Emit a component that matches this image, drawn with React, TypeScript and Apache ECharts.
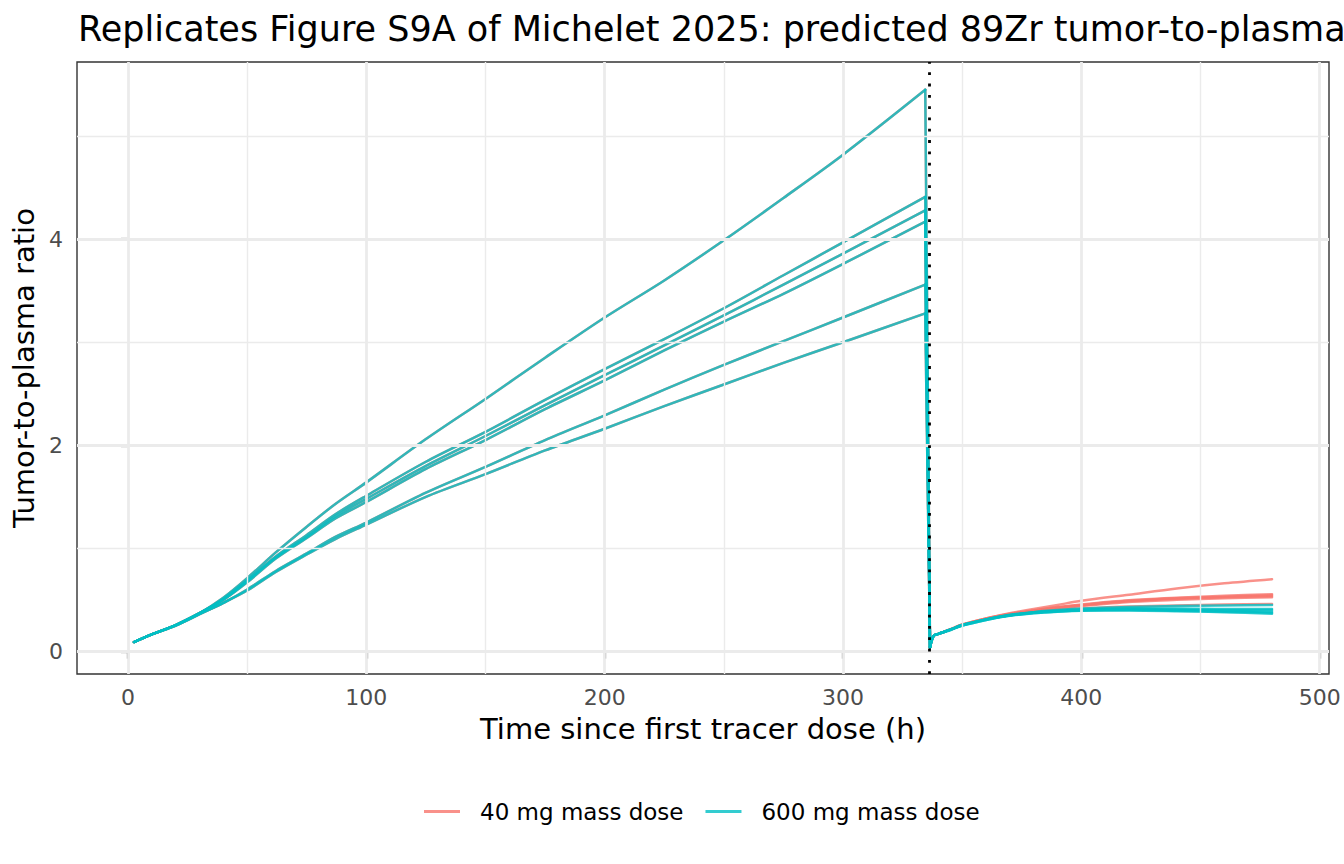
import React, { useEffect, useRef } from "react";
import * as echarts from "echarts";

const TITLE = "Replicates Figure S9A of Michelet 2025: predicted 89Zr tumor-to-plasma ratio";
const X_TITLE = "Time since first tracer dose (h)";
const Y_TITLE = "Tumor-to-plasma ratio";
const SCENARIOS = ["40 mg mass dose", "600 mg mass dose"];
const COLORS = ["rgba(248,118,109,0.8)", "rgba(0,191,196,0.8)"];

const X_MAJOR = [0, 100, 200, 300, 400, 500];
const X_MINOR = [50, 150, 250, 350, 450];
const Y_MAJOR = [0, 2, 4];
const Y_MINOR = [1, 3, 5];
const DOSE_TIME = 336;

// phase 1 (shared by both scenarios)
const P1_X = [2.5, 10, 20, 30, 40, 50, 62, 75, 87, 100, 125, 150, 175, 200, 225, 250, 275, 300, 334.5];
const S1 = [0.09, 0.165, 0.255, 0.37, 0.52, 0.71, 0.96, 1.21, 1.43, 1.64, 2.06, 2.45, 2.85, 3.24, 3.6, 3.99, 4.4, 4.82, 5.45];
const S2 = [0.09, 0.165, 0.255, 0.37, 0.51, 0.69, 0.92, 1.13, 1.33, 1.51, 1.84, 2.13, 2.44, 2.74, 3.03, 3.33, 3.65, 3.97, 4.41];
const S3 = [0.09, 0.165, 0.255, 0.37, 0.5, 0.68, 0.91, 1.11, 1.31, 1.48, 1.8, 2.09, 2.39, 2.68, 2.97, 3.26, 3.56, 3.86, 4.28];
const S4 = [0.09, 0.165, 0.255, 0.37, 0.5, 0.67, 0.9, 1.1, 1.29, 1.45, 1.77, 2.05, 2.35, 2.63, 2.92, 3.2, 3.47, 3.76, 4.17];
const S5 = [0.09, 0.165, 0.25, 0.36, 0.47, 0.6, 0.78, 0.95, 1.11, 1.25, 1.54, 1.79, 2.05, 2.29, 2.54, 2.78, 3.01, 3.24, 3.56];
const S6 = [0.09, 0.165, 0.25, 0.36, 0.47, 0.59, 0.77, 0.94, 1.09, 1.23, 1.5, 1.72, 1.95, 2.16, 2.38, 2.59, 2.8, 3.0, 3.28];

// phase 2 (after second dose)
const P2_X = [336.5, 338, 340, 345, 350, 360, 370, 380, 390, 400, 420, 440, 460, 480];
const R1 = [0.04, 0.15, 0.17, 0.215, 0.26, 0.32, 0.37, 0.41, 0.45, 0.49, 0.55, 0.61, 0.66, 0.7];
const R2 = [0.04, 0.15, 0.17, 0.21, 0.26, 0.32, 0.365, 0.4, 0.43, 0.455, 0.495, 0.52, 0.54, 0.555];
const R3 = [0.04, 0.15, 0.17, 0.21, 0.255, 0.315, 0.36, 0.395, 0.425, 0.45, 0.49, 0.515, 0.53, 0.545];
const R4 = [0.04, 0.15, 0.17, 0.21, 0.255, 0.315, 0.36, 0.39, 0.42, 0.445, 0.485, 0.51, 0.525, 0.535];
const R5 = [0.04, 0.15, 0.17, 0.21, 0.255, 0.315, 0.355, 0.39, 0.415, 0.44, 0.48, 0.5, 0.515, 0.525];
const R6 = [0.04, 0.15, 0.17, 0.21, 0.255, 0.31, 0.35, 0.38, 0.4, 0.415, 0.435, 0.445, 0.455, 0.46];
const T1 = [0.04, 0.15, 0.17, 0.21, 0.255, 0.31, 0.35, 0.38, 0.4, 0.415, 0.43, 0.44, 0.445, 0.45];
const T2 = [0.04, 0.15, 0.17, 0.21, 0.255, 0.31, 0.355, 0.38, 0.395, 0.405, 0.415, 0.415, 0.41, 0.41];
const T3 = [0.04, 0.15, 0.17, 0.21, 0.255, 0.31, 0.35, 0.378, 0.392, 0.402, 0.41, 0.407, 0.402, 0.4];
const T4 = [0.04, 0.15, 0.17, 0.21, 0.25, 0.31, 0.35, 0.375, 0.39, 0.4, 0.405, 0.4, 0.393, 0.385];
const T5 = [0.04, 0.15, 0.17, 0.21, 0.25, 0.305, 0.348, 0.372, 0.387, 0.397, 0.4, 0.393, 0.385, 0.375];
const T6 = [0.04, 0.15, 0.17, 0.205, 0.25, 0.305, 0.345, 0.37, 0.385, 0.395, 0.397, 0.39, 0.38, 0.365];

const PHASE1 = [S1, S2, S3, S4, S5, S6];
const PHASE2_40 = [R1, R2, R3, R4, R5, R6];
const PHASE2_600 = [T1, T2, T3, T4, T5, T6];

const FONT = "DejaVu Sans";

function pairs(xs: number[], ys: number[]) {
  return xs.map((x, i) => [x, ys[i]]);
}

export default function App() {
  const ref = useRef<HTMLDivElement>(null);
  useEffect(() => {
    if (!ref.current) return;
    const chart = echarts.init(ref.current, null, { renderer: "svg" });
    const series: any[] = [];

    const gridLines: any[] = [];
    X_MAJOR.forEach((v) => gridLines.push({ xAxis: v, lineStyle: { width: 2.8, color: "#EBEBEB", type: "solid" } }));
    X_MINOR.forEach((v) => gridLines.push({ xAxis: v, lineStyle: { width: 1.4, color: "#EBEBEB", type: "solid" } }));
    Y_MAJOR.forEach((v) => gridLines.push({ yAxis: v, lineStyle: { width: 2.8, color: "#EBEBEB", type: "solid" } }));
    Y_MINOR.forEach((v) => gridLines.push({ yAxis: v, lineStyle: { width: 1.4, color: "#EBEBEB", type: "solid" } }));
    series.push({
      type: "line",
      name: "grid",
      data: [],
      z: 1,
      silent: true,
      markLine: { silent: true, symbol: ["none", "none"], label: { show: false }, animation: false, data: gridLines },
    });

    const base = (gi: number) => ({
      type: "line",
      name: SCENARIOS[gi],
      showSymbol: false,
      symbol: "none",
      z: 2,
      lineStyle: { color: COLORS[gi], width: 2.5, cap: "round", join: "round" },
      itemStyle: { color: COLORS[gi] },
      silent: true,
    });

    [PHASE2_40, PHASE2_600].forEach((group, gi) => {
      group.forEach((p2, si) => {
        const p1 = PHASE1[si];
        const n1 = P1_X.length - 1;
        // rise before the second dose
        series.push({ ...base(gi), data: pairs(P1_X, p1), smooth: 0.3 });
        // drop at the second dose
        series.push({ ...base(gi), data: [[P1_X[n1], p1[n1]], [P2_X[0], p2[0]]] });
        // after the second dose
        series.push({ ...base(gi), data: pairs(P2_X, p2), smooth: 0.3 });
      });
    });

    series.push({
      type: "line",
      name: "dose",
      data: [],
      z: 5,
      silent: true,
      markLine: {
        silent: true,
        symbol: ["none", "none"],
        label: { show: false },
        animation: false,
        data: [{ xAxis: DOSE_TIME, lineStyle: { color: "#000000", width: 2.8, type: [2.8, 8.5], cap: "butt" } }],
      },
    });

    chart.setOption({
      animation: false,
      backgroundColor: "#ffffff",
      textStyle: { fontFamily: FONT },
      title: {
        text: TITLE,
        left: 78,
        top: 11,
        padding: 0,
        textStyle: { fontFamily: FONT, fontSize: 35, fontWeight: "normal", color: "#000000" },
      },
      grid: {
        left: 77,
        top: 62,
        width: 1252,
        height: 612,
        show: true,
        borderColor: "#333333",
        borderWidth: 1.4,
        backgroundColor: "#ffffff",
        containLabel: false,
      },
      legend: {
        left: 419,
        top: 795,
        icon: "rect",
        itemWidth: 36,
        itemHeight: 3,
        itemGap: 22,
        data: SCENARIOS.map((n, i) => ({ name: n, itemStyle: { color: COLORS[i] } })),
        textStyle: { fontFamily: FONT, fontSize: 23, color: "#000000", padding: [0, 0, 0, 15] },
      },
      xAxis: {
        type: "value",
        min: -21.4,
        max: 503.9,
        axisLine: { show: false },
        splitLine: { show: false },
        axisTick: { show: true, length: 7.3, lineStyle: { color: "#333333", width: 2.2 }, customValues: X_MAJOR },
        axisLabel: {
          customValues: X_MAJOR,
          fontFamily: FONT,
          fontSize: 22,
          color: "#4D4D4D",
          margin: 12,
        },
      },
      yAxis: {
        type: "value",
        min: -0.22,
        max: 5.72,
        axisLine: { show: false },
        splitLine: { show: false },
        axisTick: { show: true, length: 7.3, lineStyle: { color: "#333333", width: 2.2 }, customValues: Y_MAJOR },
        axisLabel: {
          customValues: Y_MAJOR,
          fontFamily: FONT,
          fontSize: 22,
          color: "#4D4D4D",
          margin: 14,
        },
      },
      graphic: [
        {
          type: "text",
          x: 703,
          y: 728.5,
          style: { text: X_TITLE, font: `29px "${FONT}"`, fill: "#000000", align: "center", verticalAlign: "middle" },
        },
        {
          type: "text",
          x: 24,
          y: 368,
          rotation: Math.PI / 2,
          style: { text: Y_TITLE, font: `29px "${FONT}"`, fill: "#000000", align: "center", verticalAlign: "middle" },
        },
      ],
      series,
    });
    return () => chart.dispose();
  }, []);
  return <div ref={ref} style={{ position: "absolute", left: 0, top: 0, width: 1344, height: 864 }} />;
}
